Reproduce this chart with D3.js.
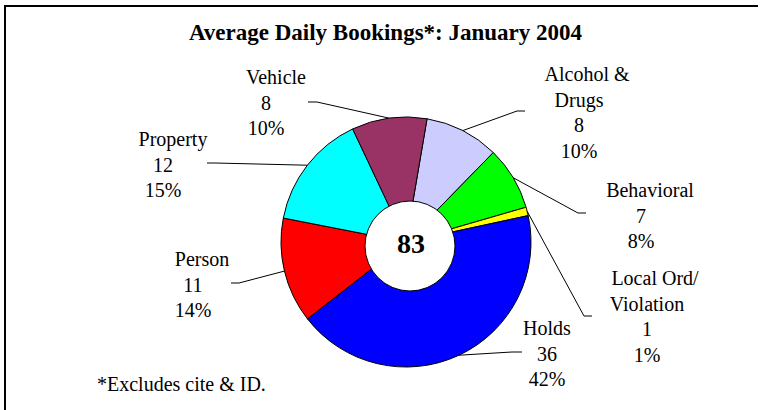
<!DOCTYPE html>
<html>
<head>
  <script src="https://d3js.org/d3.v7.min.js"></script>
</head>
<body style="margin:0">
<script>
  // slice data, clockwise from the top
  const categories = ["Alcohol & Drugs", "Behavioral", "Local Ord/ Violation", "Holds", "Person", "Property", "Vehicle"];
  const nameLines = [["Alcohol &", "Drugs"], ["Behavioral"], ["Local Ord/", "Violation"], ["Holds"], ["Person"], ["Property"], ["Vehicle"]];
  const counts = [8, 7, 1, 36, 11, 12, 8];
  const percents = [10, 8, 1, 42, 14, 15, 10];
  // slice sizes (% of the circle)
  const shares = [9.6, 8.2, 1.1, 42.8, 13.6, 14.9, 9.7];
  const colors = ["#CCCCFF", "#00FF00", "#FFFF00", "#0000FF", "#FF0000", "#00FFFF", "#993366"];
  const total = 83;

  // label placement: centre x, first baseline, offset of the name line, elbow of the leader
  const labelPos = [
    {x: 579, y: 81, dx: 8, elbow: [[525, 111], [517, 111]]},
    {x: 641, y: 197, dx: 9, elbow: [[586, 213], [578, 213]]},
    {x: 647, y: 285, dx: 8, elbow: [[592, 316], [584, 316]]},
    {x: 547, y: 335, dx: 0, elbow: [[522, 352], [512, 352]]},
    {x: 193, y: 266, dx: 9, elbow: [[231, 283], [239, 283]]},
    {x: 163, y: 146, dx: 10, elbow: [[207, 163], [215, 163]]},
    {x: 266, y: 84, dx: 10, elbow: [[308, 102], [317, 102]]}
  ];

  const width = 760, height = 410;
  const cx = 406, cy = 242, r = 125;
  const lineGap = 25.7;
  const serif = "Liberation Serif";

  const svg = d3.select("body").append("svg")
      .attr("width", width)
      .attr("height", height);

  function addText(x, y, str, size, bold, anchor) {
    return svg.append("text")
        .attr("x", x).attr("y", y)
        .attr("text-anchor", anchor || "middle")
        .attr("font-family", serif)
        .attr("font-size", size)
        .attr("font-weight", bold ? "bold" : "normal")
        .style("font-family", serif)
        .text(str);
  }

  // frame (top and left edges only)
  svg.append("line").attr("x1", 4).attr("x2", 758).attr("y1", 6).attr("y2", 6)
      .attr("stroke", "#000").attr("stroke-width", 2);
  svg.append("line").attr("x1", 5).attr("x2", 5).attr("y1", 5).attr("y2", height)
      .attr("stroke", "#000").attr("stroke-width", 2);

  addText(385.5, 40, "Average Daily Bookings*: January 2004", 23, true);

  const pie = d3.pie()
      .sort(null)
      .value(d => d)
      .startAngle(9.7 * Math.PI / 180)
      .endAngle(9.7 * Math.PI / 180 + 2 * Math.PI);
  const arcs = pie(shares);

  const arc = d3.arc().innerRadius(0).outerRadius(r);
  const edge = d3.arc().innerRadius(r).outerRadius(r);

  const g = svg.append("g").attr("transform", `translate(${cx},${cy})`);
  g.selectAll("path.slice")
      .data(arcs)
      .enter().append("path")
      .attr("class", "slice")
      .attr("d", arc)
      .attr("fill", (d, i) => colors[i])
      .attr("stroke", "#000")
      .attr("stroke-width", 1);

  // hole in the middle with the total
  svg.append("circle")
      .attr("cx", 410).attr("cy", 246).attr("r", 45)
      .attr("fill", "#fff").attr("stroke", "#000").attr("stroke-width", 1);
  addText(411, 253, total, 28, true);

  // leader lines
  const line = d3.line();
  arcs.forEach((d, i) => {
    const p = edge.centroid(d);
    const pts = labelPos[i].elbow.concat([[p[0] + cx, p[1] + cy]]);
    svg.append("path")
        .attr("d", line(pts))
        .attr("fill", "none")
        .attr("stroke", "#000")
        .attr("stroke-width", 1);
  });

  // labels
  categories.forEach((c, i) => {
    const pos = labelPos[i];
    const lines = nameLines[i].map((t, k) => ({t: t, dx: k === 0 ? pos.dx : 0}))
        .concat([{t: String(counts[i]), dx: 0}, {t: percents[i] + "%", dx: 0}]);
    lines.forEach((l, k) => addText(pos.x + l.dx, pos.y + k * lineGap, l.t, 20, false));
  });

  addText(97, 391, "*Excludes cite & ID.", 20, false, "start");
</script>
</body>
</html>
